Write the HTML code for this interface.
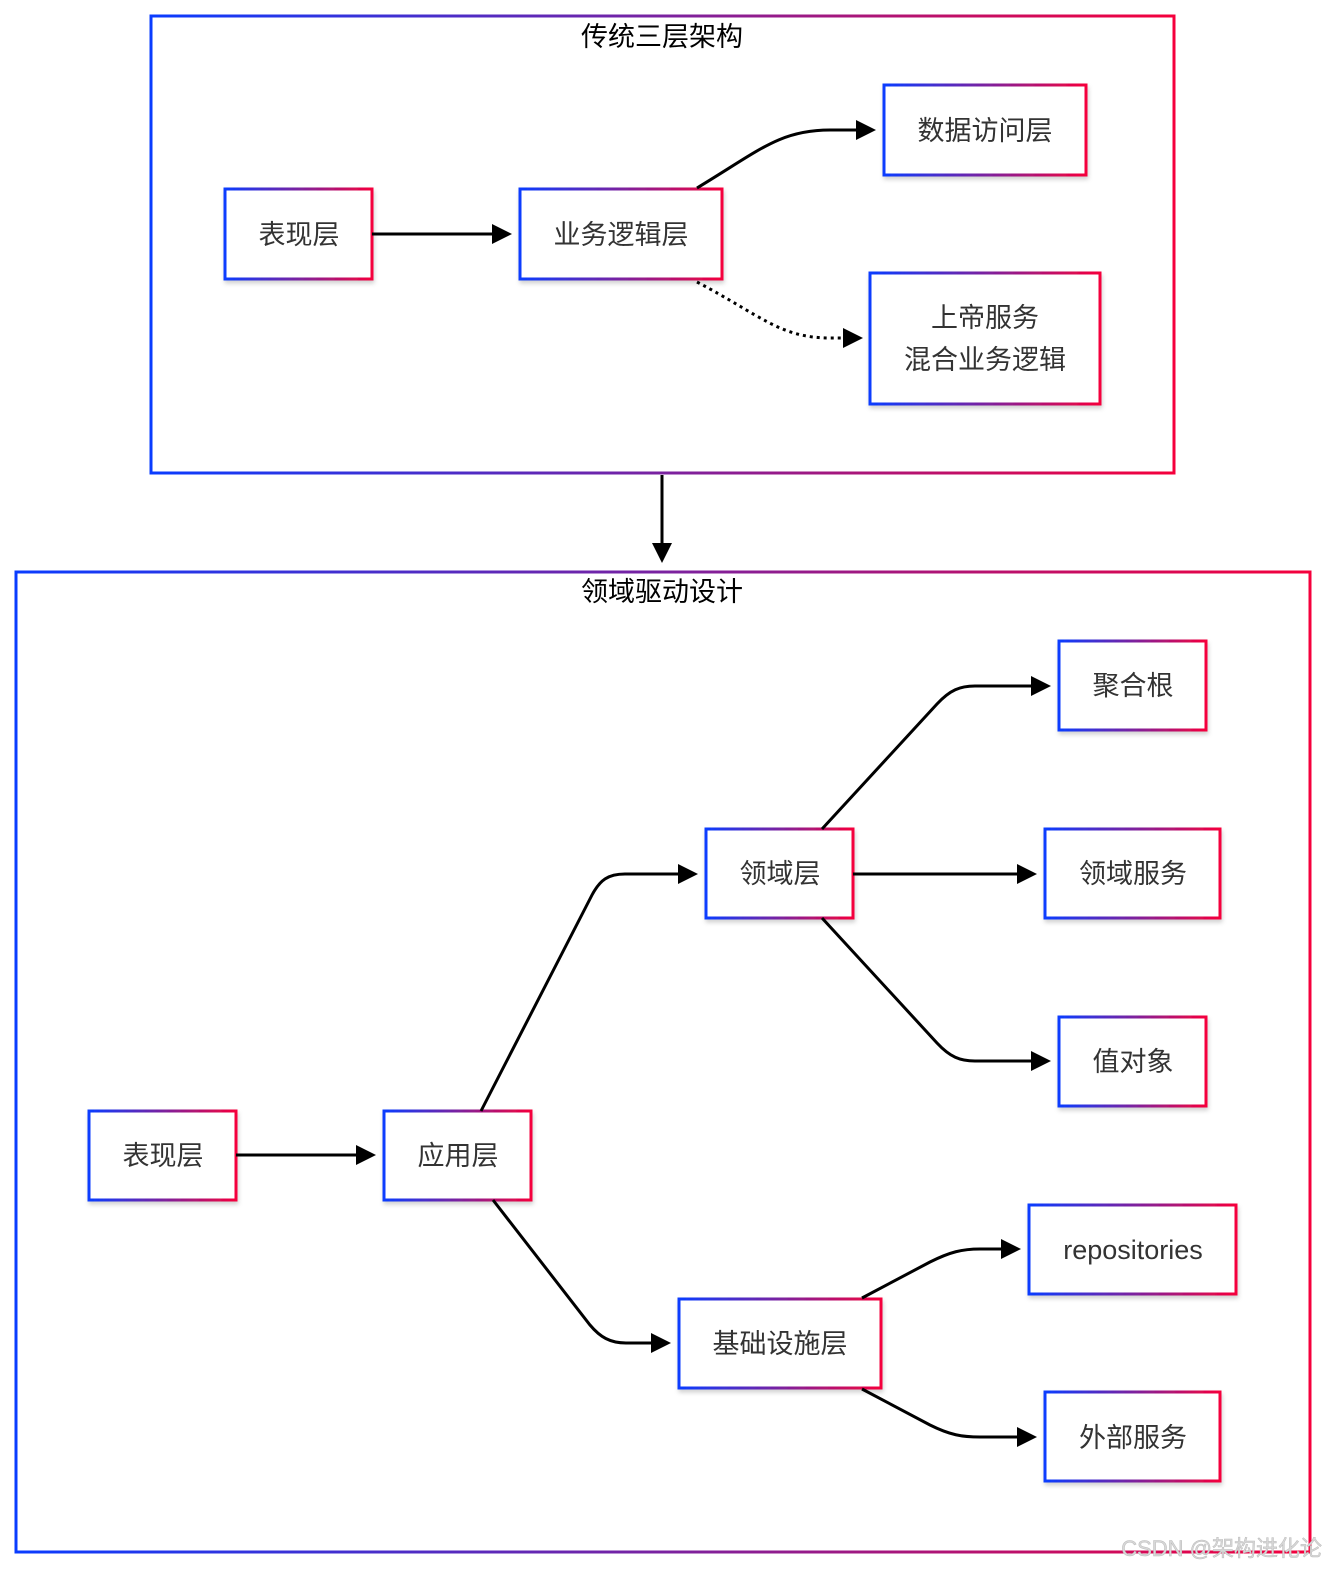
<!DOCTYPE html>
<html><head><meta charset="utf-8"><style>
html,body{margin:0;padding:0;background:#fff;}
svg text{font-family:"Liberation Sans","Noto Sans CJK SC",sans-serif;}
</style></head><body>
<svg width="1340" height="1584" viewBox="0 0 1340 1584" xmlns="http://www.w3.org/2000/svg">
<defs>
<linearGradient id="g" x1="0" y1="0" x2="1" y2="0">
<stop offset="0" stop-color="#0a3cff"/><stop offset="0.5" stop-color="#7a22a0"/><stop offset="1" stop-color="#f5003c"/>
</linearGradient>
<filter id="s" x="-10%" y="-10%" width="130%" height="140%"><feDropShadow dx="1" dy="3" stdDeviation="2" flood-color="#000" flood-opacity="0.18"/></filter>
</defs>
<g fill="none" stroke="url(#g)" stroke-width="3">
<rect x="151" y="16" width="1023" height="457"/>
<rect x="16" y="572" width="1294" height="980"/>
</g>
<g fill="#fff" stroke="url(#g)" stroke-width="3" filter="url(#s)">
<rect x="225" y="189" width="147" height="90"/>
<rect x="520" y="189" width="202" height="90"/>
<rect x="884" y="85" width="202" height="90"/>
<rect x="870" y="273" width="230" height="131"/>
<rect x="89" y="1111" width="147" height="89"/>
<rect x="384" y="1111" width="147" height="89"/>
<rect x="706" y="829" width="147" height="89"/>
<rect x="679" y="1299" width="202" height="89"/>
<rect x="1059" y="641" width="147" height="89"/>
<rect x="1045" y="829" width="175" height="89"/>
<rect x="1059" y="1017" width="147" height="89"/>
<rect x="1029" y="1205" width="207" height="89"/>
<rect x="1045" y="1392" width="175" height="89"/>
</g>
<g fill="none" stroke="#000" stroke-width="3">
<path d="M372,234 L494,234"/>
<path d="M697,188 C760,150 780,130 830,130 L858,130"/>
<path d="M697,282 C760,315 780,338 830,338 L845,338" stroke-dasharray="3,4"/>
<path d="M662,475 L662,545"/>
<path d="M236,1155 L358,1155"/>
<path d="M481,1111 L592,895 C600,880 608,874 625,874 L680,874"/>
<path d="M493,1200 L590,1325 C600,1337 610,1343 626,1343 L653,1343"/>
<path d="M822,829 L937,704 C950,690 960,686 975,686 L1033,686"/>
<path d="M853,874 L1019,874"/>
<path d="M822,918 L937,1043 C950,1057 960,1061 975,1061 L1033,1061"/>
<path d="M862,1298 L930,1262 C950,1252 962,1249 980,1249 L1003,1249"/>
<path d="M862,1389 L930,1425 C950,1435 962,1437 980,1437 L1019,1437"/>
</g>
<g fill="#000">
<polygon points="492,224 512,234 492,244"/>
<polygon points="856,120 876,130 856,140"/>
<polygon points="843,328 863,338 843,348"/>
<polygon points="652,543 662,563 672,543"/>
<polygon points="356,1145 376,1155 356,1165"/>
<polygon points="678,864 698,874 678,884"/>
<polygon points="651,1333 671,1343 651,1353"/>
<polygon points="1031,676 1051,686 1031,696"/>
<polygon points="1017,864 1037,874 1017,884"/>
<polygon points="1031,1051 1051,1061 1031,1071"/>
<polygon points="1001,1239 1021,1249 1001,1259"/>
<polygon points="1017,1427 1037,1437 1017,1447"/>
</g>
<g font-size="27" fill="#000" text-anchor="middle">
<text x="662" y="46">传统三层架构</text>
<text x="662" y="601">领域驱动设计</text>
</g>
<g font-size="27" fill="#333" text-anchor="middle">
<text x="299" y="244">表现层</text>
<text x="621" y="244">业务逻辑层</text>
<text x="985" y="140">数据访问层</text>
<text x="985" y="327">上帝服务</text>
<text x="985" y="369">混合业务逻辑</text>
<text x="163" y="1165">表现层</text>
<text x="458" y="1165">应用层</text>
<text x="780" y="883">领域层</text>
<text x="780" y="1353">基础设施层</text>
<text x="1133" y="695">聚合根</text>
<text x="1133" y="883">领域服务</text>
<text x="1133" y="1071">值对象</text>
<text x="1133" y="1259">repositories</text>
<text x="1133" y="1447">外部服务</text>
</g>
<text x="1322" y="1556" font-size="22" fill="#d8d8d8" stroke="#bbb" stroke-width="0.5" text-anchor="end">CSDN @架构进化论</text>
</svg>
</body></html>
